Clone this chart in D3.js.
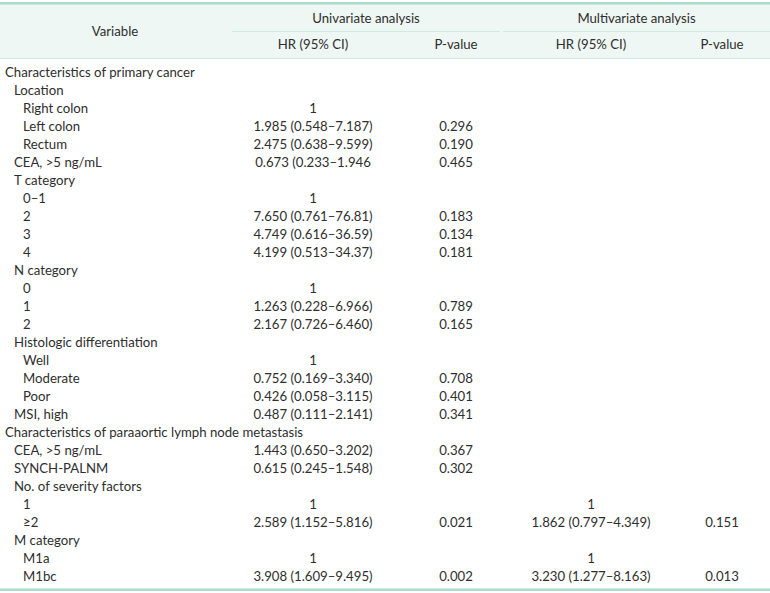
<!DOCTYPE html>
<html>
<head>
<meta charset="utf-8">
<script src="https://cdn.jsdelivr.net/npm/d3@7"></script>
<style>
  html, body { margin: 0; padding: 0; background: #fff; }
  text { font-family: Lato, "Open Sans", sans-serif; font-size: 13.2px; fill: #2e2e2e; }
</style>
</head>
<body>
<div id="chart"></div>
<script>
// row labels and indent level (0 = section, 1 = variable, 2 = category)
var labels = ['Characteristics of primary cancer', 'Location', 'Right colon', 'Left colon', 'Rectum',
  'CEA, >5 ng/mL', 'T category', '0\u20131', '2', '3', '4', 'N category', '0', '1', '2',
  'Histologic differentiation', 'Well', 'Moderate', 'Poor', 'MSI, high',
  'Characteristics of paraaortic lymph node metastasis', 'CEA, >5 ng/mL', 'SYNCH-PALNM',
  'No. of severity factors', '1', '\u22652', 'M category', 'M1a', 'M1bc']
var levels = [0, 1, 2, 2, 2, 1, 1, 2, 2, 2, 2, 1, 2, 2, 2, 1, 2, 2, 2, 1, 0, 1, 1, 1, 2, 2, 1, 2, 2]

var uniHR = ['', '', '1', '1.985 (0.548\u20137.187)', '2.475 (0.638\u20139.599)', '0.673 (0.233\u20131.946',
  '', '1', '7.650 (0.761\u201376.81)', '4.749 (0.616\u201336.59)', '4.199 (0.513\u201334.37)',
  '', '1', '1.263 (0.228\u20136.966)', '2.167 (0.726\u20136.460)',
  '', '1', '0.752 (0.169\u20133.340)', '0.426 (0.058\u20133.115)', '0.487 (0.111\u20132.141)',
  '', '1.443 (0.650\u20133.202)', '0.615 (0.245\u20131.548)',
  '', '1', '2.589 (1.152\u20135.816)', '', '1', '3.908 (1.609\u20139.495)']
var uniP = ['', '', '', '0.296', '0.190', '0.465', '', '', '0.183', '0.134', '0.181',
  '', '', '0.789', '0.165', '', '', '0.708', '0.401', '0.341',
  '', '0.367', '0.302', '', '', '0.021', '', '', '0.002']
var multiHR = ['', '', '', '', '', '', '', '', '', '', '', '', '', '', '', '', '', '', '', '',
  '', '', '', '', '1', '1.862 (0.797\u20134.349)', '', '1', '3.230 (1.277\u20138.163)']
var multiP = ['', '', '', '', '', '', '', '', '', '', '', '', '', '', '', '', '', '', '', '',
  '', '', '', '', '', '0.151', '', '', '0.013']

var groupHeads = ['Univariate analysis', 'Multivariate analysis']
var colHeads = ['HR (95% CI)', 'P-value', 'HR (95% CI)', 'P-value']

var width = 770, height = 593
var svg = d3.select('#chart').append('svg')
  .attr('width', width)
  .attr('height', height)

var lineColor = '#a9dcca'
var headBg = '#eef7f4'

// header block
svg.append('rect').attr('x', 0).attr('y', 4).attr('width', width).attr('height', 54).attr('fill', headBg)
svg.append('rect').attr('x', 0).attr('y', 2).attr('width', width).attr('height', 2.5).attr('fill', lineColor)
svg.append('line').attr('x1', 0).attr('x2', width).attr('y1', 58.5).attr('y2', 58.5)
  .attr('stroke', '#cfeae1').attr('stroke-width', 1)

// column centres
var colX = [313, 456, 591, 722]
var groupSpan = [[232, 500], [503, 770]]

svg.append('text').attr('x', 115).attr('y', 31).attr('dy', '0.35em')
  .attr('text-anchor', 'middle').text('Variable')

svg.selectAll('.ghead').data(groupHeads).enter().append('text')
  .attr('x', function (d, i) { return (groupSpan[i][0] + groupSpan[i][1]) / 2 })
  .attr('y', 18).attr('dy', '0.35em').attr('text-anchor', 'middle')
  .text(function (d) { return d })

svg.selectAll('.gline').data(groupSpan).enter().append('line')
  .attr('x1', function (d) { return d[0] }).attr('x2', function (d) { return d[1] })
  .attr('y1', 31.5).attr('y2', 31.5)
  .attr('stroke', '#cfeae1').attr('stroke-width', 1)

svg.selectAll('.chead').data(colHeads).enter().append('text')
  .attr('x', function (d, i) { return colX[i] })
  .attr('y', 44).attr('dy', '0.35em').attr('text-anchor', 'middle')
  .text(function (d) { return d })

// body rows
var y = d3.scalePoint().domain(d3.range(labels.length)).range([72, 576])

var rows = svg.selectAll('.row').data(labels).enter().append('g')
  .attr('class', 'row')
  .attr('transform', function (d, i) { return 'translate(0,' + y(i) + ')' })

rows.append('text')
  .attr('x', function (d, i) { return 5 + levels[i] * 9 })
  .attr('dy', '0.35em')
  .text(function (d) { return d })

var cols = [uniHR, uniP, multiHR, multiP]
cols.forEach(function (col, c) {
  rows.append('text')
    .attr('x', colX[c])
    .attr('dy', '0.35em')
    .attr('text-anchor', 'middle')
    .text(function (d, i) { return col[i] })
})

svg.append('rect').attr('x', 0).attr('y', 588.5).attr('width', width).attr('height', 2.5).attr('fill', lineColor)
</script>
</body>
</html>
